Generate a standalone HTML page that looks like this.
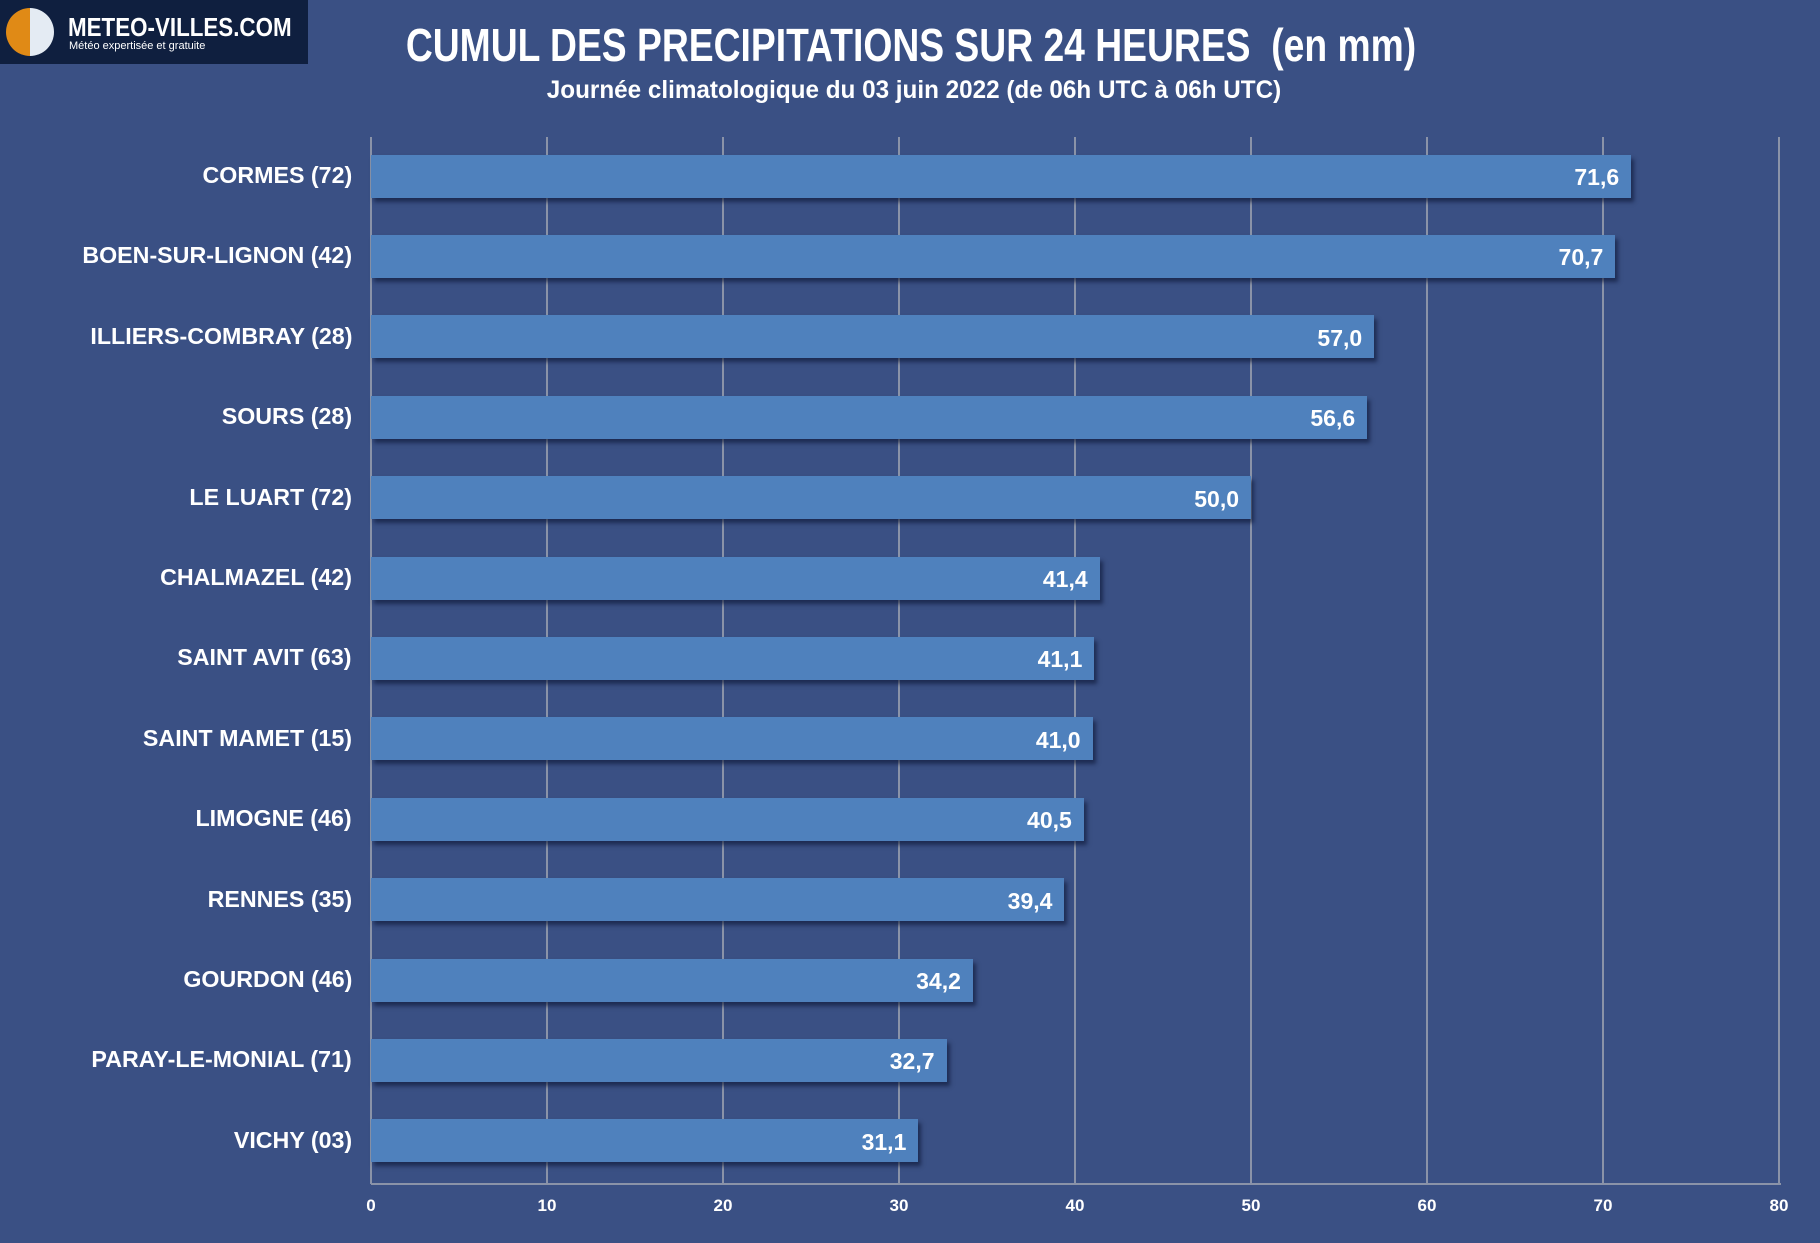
<!DOCTYPE html>
<html><head><meta charset="utf-8"><style>
body{margin:0;width:1820px;height:1243px;background:#3a5084;position:relative;overflow:hidden;font-family:"Liberation Sans",sans-serif;color:#fff}
.logo{position:absolute;left:0;top:0;width:308px;height:64px;background:#0f1f3f}
.t{position:absolute;white-space:nowrap;font-weight:bold}
.grid{position:absolute;top:137px;height:1047px;width:2px;background:#8a93a8}
.bar{position:absolute;height:43px;background:#4f81bd;box-shadow:3px 4px 4px rgba(10,20,50,.6)}
.lab{position:absolute;right:1468px;font-size:23px;font-weight:bold;white-space:nowrap;transform:scaleX(1.01);transform-origin:right center}
.val{position:absolute;font-size:23px;font-weight:bold;transform:translateX(-100%);white-space:nowrap}
.tick{position:absolute;top:1196px;font-size:17px;font-weight:bold;transform:translateX(-50%)}
</style></head><body>
<div class="logo">
 <div style="position:absolute;left:6px;top:8px;width:48px;height:48px;border-radius:50%;background:linear-gradient(90deg,#e08a16 50%,#e4ebf3 50%)"></div>
 <div class="t" style="left:68px;top:12px;font-size:26px;transform:scaleX(.86);transform-origin:left">METEO-VILLES.COM</div>
 <div class="t" style="left:69px;top:40px;font-size:11px;font-weight:normal">Météo expertisée et gratuite</div>
</div>
<div class="t" style="left:911px;top:18px;font-size:46px;transform:translateX(-50%) scaleX(.81);font-family:'Liberation Sans Narrow','Liberation Sans',sans-serif">CUMUL DES PRECIPITATIONS SUR 24 HEURES &nbsp;(en mm)</div>
<div class="t" style="left:914px;top:76px;font-size:25px;transform:translateX(-50%) scaleX(.97)">Journée climatologique du 03 juin 2022 (de 06h UTC à 06h UTC)</div>
<div id="c"></div>
<div style="position:absolute;left:371px;top:1183px;width:1410px;height:2px;background:#8a93a8"></div>
<script>
var x0=371,s=17.6;
var d=[["CORMES (72)",71.6],["BOEN-SUR-LIGNON (42)",70.7],["ILLIERS-COMBRAY (28)",57.0],["SOURS (28)",56.6],["LE LUART (72)",50.0],["CHALMAZEL (42)",41.4],["SAINT AVIT (63)",41.1],["SAINT MAMET (15)",41.0],["LIMOGNE (46)",40.5],["RENNES (35)",39.4],["GOURDON (46)",34.2],["PARAY-LE-MONIAL (71)",32.7],["VICHY (03)",31.1]];
var h="";
for(var i=0;i<=8;i++){h+='<div class="grid" style="left:'+(x0+i*176-1)+'px"></div><div class="tick" style="left:'+(x0+i*176)+'px">'+(i*10)+'</div>';}
d.forEach(function(r,i){var cy=176+i*80.4,w=r[1]*s;
h+='<div class="bar" style="left:'+x0+'px;top:'+(cy-21.5)+'px;width:'+w+'px"></div>';
h+='<div class="lab" style="top:'+(cy-14)+'px">'+r[0]+'</div>';
h+='<div class="val" style="left:'+(x0+w-12)+'px;top:'+(cy-12)+'px">'+r[1].toFixed(1).replace(".",",")+'</div>';});
document.getElementById("c").innerHTML=h;
</script>
</body></html>
